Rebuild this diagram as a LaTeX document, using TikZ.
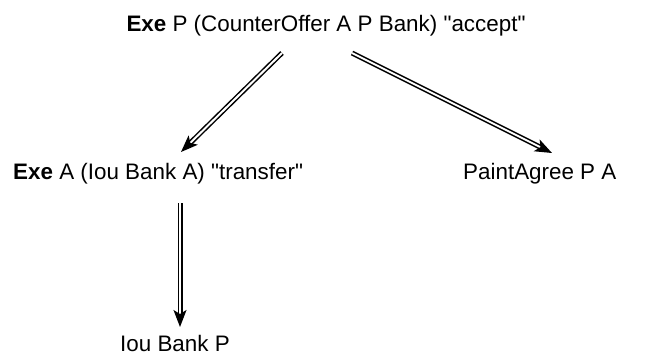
\documentclass[tikz,border=0pt]{standalone}
\usepackage{fontspec}
\setmainfont{Liberation Sans}[Ligatures=TeXOff]
\usetikzlibrary{positioning,arrows.meta,calc}

\begin{document}
\begin{tikzpicture}[
  x=1pt,y=-1pt,
  font=\fontsize{22.4}{26}\selectfont,
  lbl/.style={inner sep=0pt},
  dbl/.style={double,double distance=2pt,line width=1.5pt,
    -{Stealth[length=17pt,width=13pt,inset=4pt]}}
]
\useasboundingbox (0,0) rectangle (653,357);
\node[lbl,anchor=base] (exeP) at (326,31) {\textbf{Exe} P (CounterOffer A P Bank) "accept"};
\node[lbl,anchor=base west] (exeA) at (13,179) {\textbf{Exe} A (Iou Bank A) "transfer"};
\node[lbl,anchor=base west] (paint) at (463,179) {PaintAgree P A};
\node[lbl,anchor=base west] (iouP) at (120,351) {Iou Bank P};

\coordinate (la) at ($(exeP.base)+(-44,22)$);
\coordinate (ra) at ($(exeP.base)+(26,22)$);
\draw[dbl] (la) -- ($(exeA.base west)+(168,-27)$);
\draw[dbl] (ra) -- ($(paint.base west)+(89,-26)$);
\draw[dbl] ($(exeA.base west)+(167,24)$) -- ($(iouP.base west)+(60,-24)$);
\end{tikzpicture}
\end{document}
